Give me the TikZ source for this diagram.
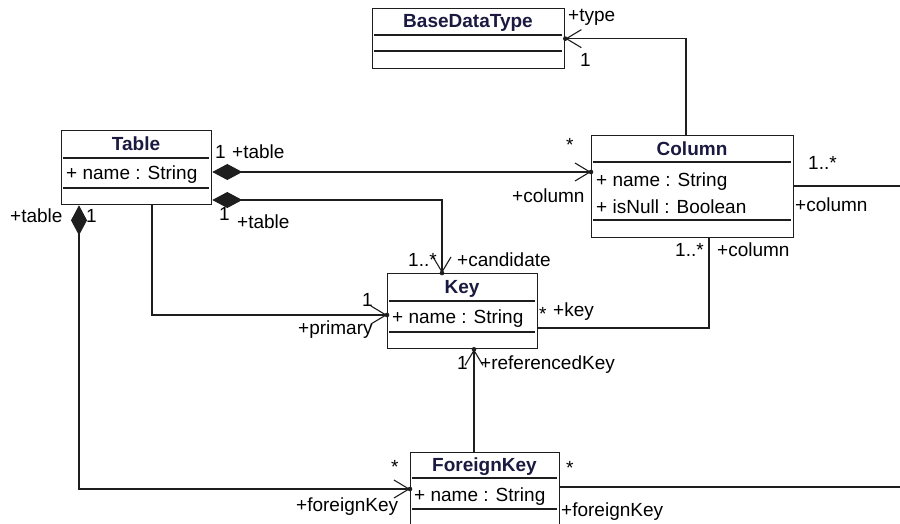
\documentclass[tikz,border=0pt]{standalone}
\usepackage{fontspec}
\setmainfont{Liberation Sans}
\usetikzlibrary{arrows.meta}
\definecolor{linecol}{HTML}{1E1E1E}
\definecolor{titlecol}{HTML}{1A1A40}
\begin{document}
\begin{tikzpicture}[x=1pt,y=-1pt,
  lbl/.style={inner sep=0pt, anchor=west, text height=13.6pt, text depth=0pt, font=\fontsize{19}{22}\selectfont},
  ttl/.style={inner sep=0pt, text height=13.6pt, text depth=0pt, font=\bfseries\fontsize{19}{22}\selectfont, text=titlecol},
  cls/.style={draw=linecol, line width=1.3pt, inner sep=0pt, anchor=north west},
  div/.style={draw=linecol, line width=1.3pt},
  conn/.style={draw=linecol, line width=1.3pt},
  opn/.style={-{Straight Barb[length=15pt,width=18pt,line width=1.1pt]}},
  comp/.style={{Diamond[length=30pt,width=16pt,fill=linecol]}-{Straight Barb[length=15pt,width=18pt,line width=1.1pt]}},
  tipdot/.style={fill=linecol}
]
\clip (0,0) rectangle (900,524);
\fill[white] (0,0) rectangle (900,524);

% classes
\node[cls, minimum width=192pt, minimum height=60pt] (bdt) at (372,8) {};
\draw[div] (374,35) -- (562,35);
\draw[div] (374,51) -- (562,51);
\node[ttl] (bdtt) at (468,21) {BaseDataType};

\node[cls, minimum width=150pt, minimum height=74pt] (table) at (61,130) {};
\draw[div] (63,158) -- (209,158);
\draw[div] (63,188) -- (209,188);
\node[ttl] (tablet) at (136,144) {Table};
\node[lbl] (tablea) at (66,173) {+ name : String};

\node[cls, minimum width=202pt, minimum height=102pt] (column) at (591,135) {};
\draw[div] (593,162) -- (791,162);
\draw[div] (593,220) -- (791,220);
\node[ttl] (columnt) at (692,149) {Column};
\node[lbl] (columna1) at (596,180) {+ name : String};
\node[lbl] (columna2) at (596,207) {+ isNull : Boolean};

\node[cls, minimum width=150pt, minimum height=75pt] (key) at (387,273) {};
\draw[div] (389,301) -- (535,301);
\draw[div] (389,332) -- (535,332);
\node[ttl] (keyt) at (462,287) {Key};
\node[lbl] (keya) at (392,317) {+ name : String};

\node[cls, minimum width=149pt, minimum height=100pt] (fk) at (410,452) {};
\draw[div] (412,478) -- (557,478);
\draw[div] (412,509) -- (557,509);
\node[ttl] (fkt) at (484.5,465) {ForeignKey};
\node[lbl] (fka) at (414,495) {+ name : String};

\coordinate (colend) at (900,186);
\coordinate (fkend) at (900,487);

% connectors
\draw[conn,opn] ([xshift=95pt]column.north west) |- (bdt.east);
\draw[conn,comp] ([yshift=-42pt]table.north east) -- ([yshift=-37pt]column.north west);
\draw[conn,comp] ([yshift=-70pt]table.north east) -| ([xshift=55pt]key.north west);
\draw[conn,opn] ([xshift=91pt]table.south west) |- ([yshift=-42pt]key.north west);
\draw[conn] ([yshift=-55pt]key.north east) -| ([xshift=118pt]column.south west);
\draw[conn,opn] ([xshift=64pt]fk.north west) -- ([xshift=87pt]key.south west);
\draw[conn,comp] ([xshift=18pt]table.south west) |- ([yshift=-37pt]fk.north west);
\draw[conn] ([yshift=-51pt]column.north east) -- (colend);
\draw[conn] ([yshift=-35pt]fk.north east) -- (fkend);

% small dots at the navigable ends
\fill[tipdot] (bdt.east) circle (2.3pt);
\fill[tipdot] ([yshift=-37pt]column.north west) circle (2.3pt);
\fill[tipdot] ([xshift=55pt]key.north west) circle (2.3pt);
\fill[tipdot] ([yshift=-42pt]key.north west) circle (2.3pt);
\fill[tipdot] ([xshift=87pt]key.south west) circle (2.3pt);
\fill[tipdot] ([yshift=-37pt]fk.north west) circle (2.3pt);

% labels
\node[lbl] (l1) at (568,15) {+type};
\node[lbl] (l2) at (580,60) {1};
\node[lbl] (l3) at (215,152) {1};
\node[lbl] (l4) at (232,152) {+table};
\node[lbl] (l5) at (566,145) {*};
\node[lbl] (l6) at (512,196) {+column};
\node[lbl] (l7) at (219,214) {1};
\node[lbl] (l8) at (237,222) {+table};
\node[lbl] (l9) at (408,260) {1..*};
\node[lbl] (l10) at (457,260) {+candidate};
\node[lbl] (l11) at (362,300) {1};
\node[lbl] (l12) at (298,328) {+primary};
\node[lbl] (l13) at (539,314) {*};
\node[lbl] (l14) at (553,310) {+key};
\node[lbl] (l15) at (675,250) {1..*};
\node[lbl] (l16) at (717,250) {+column};
\node[lbl] (l17) at (808,163) {1..*};
\node[lbl] (l18) at (795,205) {+column};
\node[lbl] (l19) at (457,363) {1};
\node[lbl] (l20) at (480,363) {+referencedKey};
\node[lbl] (l21) at (10,216) {+table};
\node[lbl] (l22) at (86,216) {1};
\node[lbl] (l23) at (391,467) {*};
\node[lbl] (l24) at (296,505) {+foreignKey};
\node[lbl] (l25) at (566,468) {*};
\node[lbl] (l26) at (561,510) {+foreignKey};
\end{tikzpicture}
\end{document}
